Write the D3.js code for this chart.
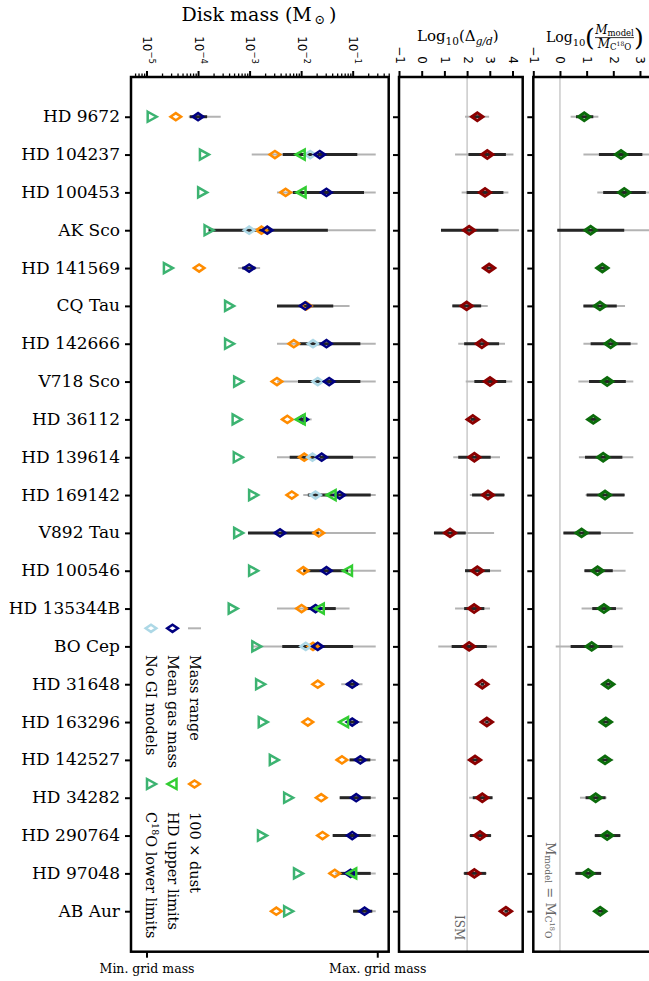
<!DOCTYPE html>
<html><head><meta charset="utf-8">
<script src="https://cdn.jsdelivr.net/npm/d3@7"></script>
<style>body{margin:0;background:#fff} svg{display:block}</style>
</head><body>
<svg id="chart" width="649" height="981"></svg>
<script>
// Disks, top to bottom
const stars = ["HD 9672","HD 104237","HD 100453","AK Sco","HD 141569","CQ Tau","HD 142666",
  "V718 Sco","HD 36112","HD 139614","HD 169142","V892 Tau","HD 100546","HD 135344B","BO Cep",
  "HD 31648","HD 163296","HD 142527","HD 34282","HD 290764","HD 97048","AB Aur"];

// Disk masses (Msun)
const c18oLower = [1.26e-5,1.3e-4,1.2e-4,1.6e-4,2.6e-5,4.0e-4,4.0e-4,6.0e-4,5.6e-4,5.9e-4,1.17e-3,
  6.0e-4,1.17e-3,4.7e-4,1.35e-3,1.6e-3,1.8e-3,2.95e-3,5.6e-3,1.74e-3,8.7e-3,5.6e-3];
const hdUpper = [null,9.8e-3,1.02e-2,null,null,null,null,null,9.8e-3,null,3.9e-2,null,8.1e-2,
  2.3e-2,null,null,6.8e-2,null,null,null,9.8e-2,null];
const dust100 = [3.7e-5,3.1e-3,5.0e-3,1.7e-3,1.05e-4,1.26e-2,7.2e-3,3.4e-3,5.4e-3,1.15e-2,6.6e-3,
  2.2e-2,1.1e-2,1.02e-2,1.7e-2,2.1e-2,1.35e-2,6.2e-2,2.45e-2,2.6e-2,4.5e-2,3.3e-3];
const gasMean = [1.0e-4,2.3e-2,3.1e-2,2.2e-3,9.8e-4,1.2e-2,3.1e-2,3.5e-2,1.07e-2,2.5e-2,5.6e-2,
  3.9e-3,3.1e-2,1.9e-2,2.1e-2,9.8e-2,9.8e-2,0.141,0.117,9.8e-2,9.1e-2,0.17];
const noGI = [null,1.5e-2,null,9.8e-4,null,null,1.7e-2,2.1e-2,null,1.66e-2,1.9e-2,null,null,null,
  1.23e-2,null,null,null,null,null,null,null];
const massMin = [6.6e-5,1.1e-3,3.4e-3,1.6e-4,6.0e-4,3.4e-3,3.4e-3,3.4e-3,8.1e-3,3.4e-3,1.1e-2,
  9.3e-4,1.1e-2,3.4e-3,1.1e-3,6.0e-2,7.0e-2,8.7e-2,5.6e-2,4.1e-2,4.5e-2,0.102];
const massMax = [2.75e-4,0.28,0.28,0.28,1.6e-3,8.7e-2,0.28,0.28,1.6e-2,0.28,0.28,0.28,0.28,8.7e-2,
  0.28,0.155,0.155,0.28,0.28,0.28,0.28,0.28];
const massLo = [6.9e-5,4.4e-3,6.9e-3,1.6e-4,7.2e-4,3.4e-3,9.3e-3,8.7e-3,8.9e-3,6.0e-3,1.35e-2,
  9.3e-4,1.1e-2,1.26e-2,4.3e-3,7.6e-2,7.9e-2,8.7e-2,5.6e-2,4.1e-2,5.6e-2,0.102];
const massHi = [1.5e-4,0.123,0.166,3.3e-2,1.3e-3,4.2e-2,0.141,0.141,1.26e-2,0.102,0.224,2.2e-2,
  8.1e-2,4.7e-2,0.102,0.126,0.126,0.22,0.224,0.224,0.224,0.24];
const massTicks = [1e-5,1e-4,1e-3,1e-2,1e-1];
const gridTicks = [1e-5,0.3];
const gridLabels = ["Min. grid mass","Max. grid mass"];

// log10 gas-to-dust ratio
const gdMean = [2.45,2.89,2.79,2.09,2.97,1.98,2.65,3.01,2.25,2.32,2.92,1.25,2.45,2.31,2.09,2.67,2.87,2.35,2.67,2.57,2.32,3.71];
const gdMin  = [1.91,1.47,1.76,0.85,2.75,1.35,1.61,1.94,2.0,1.39,2.12,0.54,1.91,1.47,0.73,2.55,2.75,2.05,2.09,2.09,1.83,3.6];
const gdMax  = [2.97,4.04,3.82,4.29,3.2,2.91,3.67,3.99,2.5,3.45,3.67,3.19,3.50,3.01,3.31,2.8,3.0,2.65,3.12,3.07,2.87,3.85];
const gdLo   = [2.2,2.06,1.98,0.85,2.85,1.35,1.87,2.32,2.15,1.61,2.22,0.54,1.91,1.87,1.32,2.6,2.8,2.15,2.25,2.13,1.87,3.65];
const gdHi   = [2.7,3.71,3.60,3.38,3.1,2.62,3.41,3.72,2.4,3.04,3.64,1.94,3.01,2.76,2.87,2.75,2.95,2.5,3.12,3.05,2.83,3.8];
const gdTicks = [-1,0,1,2,3,4];
const ismValue = 2;

// log10 (M_model / M_C18O)
const rMean = [0.91,2.29,2.41,1.15,1.59,1.50,1.90,1.77,1.25,1.62,1.69,0.81,1.41,1.65,1.19,1.81,1.72,1.69,1.34,1.77,1.06,1.51];
const rMin  = [0.40,0.88,1.40,-0.10,1.4,0.88,0.88,0.69,1.05,0.71,0.96,0.13,0.90,0.81,-0.16,1.65,1.55,1.45,0.75,1.29,0.56,1.35];
const rMax  = [1.44,3.4,3.45,3.45,1.8,2.44,2.91,2.75,1.45,2.75,2.44,2.75,2.46,2.35,2.37,1.95,1.9,2.0,1.75,2.28,1.56,1.7];
const rLo   = [0.6,1.46,1.62,-0.10,1.45,0.88,1.15,1.09,1.1,0.94,1.0,0.13,0.92,1.21,0.40,1.7,1.6,1.5,0.96,1.31,0.58,1.4];
const rHi   = [1.25,3.09,3.22,2.41,1.75,2.13,2.65,2.47,1.4,2.34,2.42,1.53,1.98,2.10,1.96,1.9,1.85,1.85,1.71,2.26,1.54,1.65];
const rTicks = [-1,0,1,2,3];

const serif = "'DejaVu Serif', serif";
const sans = "'DejaVu Sans', sans-serif";
const col = {c18o:"#3cb371", hd:"#32cd32", dust:"#ff8c00", gas:"#000080", nogi:"#add8e6",
  gd:"#8b0000", ratio:"#0b6b0b", rangeFull:"#b3b3b3", rangeCore:"#262626", ref:"#bdbdbd"};

const svg = d3.select("#chart");
const yTop = 77, yBottom = 951.7;
const y = d3.scaleLinear().domain([-1.05, 22.07]).range([yTop, yBottom]);
const xMass = d3.scaleLog().domain([5e-6, 0.5]).range([131, 388.7]);
const xGD = d3.scaleLinear().domain([-1, 4.45]).range([399, 522.7]);
const xR = d3.scaleLinear().domain([-1, 3.5]).range([533.3, 653.3]);

const diamond = (w, h) => `M${-w},0L0,${-h}L${w},0L0,${h}Z`;
const triRight = "M-4,-5L5,0L-4,5Z";
const triLeft = "M4,-5L-5,0L4,5Z";

function marker(g, path, x, yy, color, sw) {
  g.append("path").attr("d", path).attr("transform", `translate(${x},${yy})`)
    .attr("fill", "none").attr("stroke", color).attr("stroke-width", sw)
    .attr("stroke-linejoin", "miter");
}

// ---- frames and reference lines ----
const frames = [[xMass, 131, 388.7], [xGD, 399, 522.7], [xR, 533.3, 653.3]];
svg.append("line").attr("x1", xGD(ismValue)).attr("x2", xGD(ismValue)).attr("y1", yTop).attr("y2", yBottom)
  .attr("stroke", col.ref).attr("stroke-width", 1.2);
svg.append("line").attr("x1", xR(0)).attr("x2", xR(0)).attr("y1", yTop).attr("y2", yBottom)
  .attr("stroke", col.ref).attr("stroke-width", 1.2);

// ---- y axes (ticks on every panel, labels on the first) ----
frames.forEach(([, x0], k) => {
  const ax = d3.axisLeft(y).tickValues(d3.range(stars.length)).tickSize(6).tickPadding(5)
    .tickFormat(k === 0 ? (i => stars[i]) : () => "");
  const g = svg.append("g").attr("transform", `translate(${x0},0)`).call(ax);
  g.select(".domain").remove();
  g.selectAll(".tick line").attr("stroke", "#000").attr("stroke-width", 2);
  g.selectAll(".tick text").attr("font-family", serif).attr("font-size", 17)
    .attr("fill", "#000").attr("dy", "0.3em");
});

// ---- top axes ----
function styleTop(g, fmt) {
  g.select(".domain").remove();
  g.selectAll(".tick line").attr("stroke", "#000").attr("stroke-width", 2);
  g.selectAll(".tick text").each(function(d) {
    const t = d3.select(this);
    t.attr("x", 0).attr("y", 0).attr("dy", null)
      .attr("transform", "translate(0,-13) rotate(90)")
      .attr("text-anchor", "end").attr("dominant-baseline", "central")
      .attr("font-family", sans).attr("font-size", 12).attr("fill", "#000");
    fmt(t, d);
  });
}
// mass axis: major decades with minor ticks
const minor = [];
for (let e = -6; e <= 0; e++) for (let m = 2; m <= 9; m++) {
  const v = m * Math.pow(10, e);
  if (v >= 5e-6 && v <= 0.5) minor.push(v);
}
const gMinor = svg.append("g").attr("transform", `translate(0,${yTop})`)
  .call(d3.axisTop(xMass).tickValues(minor).tickSize(3.5).tickFormat(""));
gMinor.select(".domain").remove();
gMinor.selectAll(".tick line").attr("stroke", "#000").attr("stroke-width", 1.3);
const gMass = svg.append("g").attr("transform", `translate(0,${yTop})`)
  .call(d3.axisTop(xMass).tickValues(massTicks).tickSize(6));
styleTop(gMass, (t, d) => {
  const e = Math.round(Math.log10(d));
  t.text("10");
  t.append("tspan").attr("font-size", 8.5).attr("dy", -5).text("\u2212" + Math.abs(e));
});
const gGD = svg.append("g").attr("transform", `translate(0,${yTop})`)
  .call(d3.axisTop(xGD).tickValues(gdTicks).tickSize(6));
styleTop(gGD, (t, d) => t.text(d < 0 ? "\u2212" + Math.abs(d) : d));
const gR = svg.append("g").attr("transform", `translate(0,${yTop})`)
  .call(d3.axisTop(xR).tickValues(rTicks).tickSize(6));
styleTop(gR, (t, d) => t.text(d < 0 ? "\u2212" + Math.abs(d) : d));

// bottom axis of the mass panel: grid limits
const gBot = svg.append("g").attr("transform", `translate(0,${yBottom})`)
  .call(d3.axisBottom(xMass).tickValues(gridTicks).tickSize(6).tickPadding(6)
    .tickFormat((d, i) => gridLabels[i]));
gBot.select(".domain").remove();
gBot.selectAll(".tick line").attr("stroke", "#000").attr("stroke-width", 2);
gBot.selectAll(".tick text").attr("font-family", serif).attr("font-size", 12.5).attr("fill", "#000");

// ---- mass panel marks ----
const gM = svg.append("g");
stars.forEach((s, i) => {
  const yy = y(i);
  gM.append("line").attr("x1", xMass(massMin[i])).attr("x2", xMass(massMax[i]))
    .attr("y1", yy).attr("y2", yy).attr("stroke", col.rangeFull).attr("stroke-width", 2);
  gM.append("line").attr("x1", xMass(massLo[i])).attr("x2", xMass(massHi[i]))
    .attr("y1", yy).attr("y2", yy).attr("stroke", col.rangeCore).attr("stroke-width", 3);
  marker(gM, diamond(5.3, 3.6), xMass(dust100[i]), yy, col.dust, 2.5);
  if (noGI[i] != null) marker(gM, diamond(5.3, 3.6), xMass(noGI[i]), yy, col.nogi, 2.5);
  marker(gM, diamond(5.3, 3.6), xMass(gasMean[i]), yy, col.gas, 2.5);
  if (hdUpper[i] != null) marker(gM, triLeft, xMass(hdUpper[i]), yy, col.hd, 2.5);
  marker(gM, triRight, xMass(c18oLower[i]), yy, col.c18o, 2.5);
});

// ---- ratio panels ----
function ratioPanel(x, mean, mn, mx, lo, hi, color) {
  const g = svg.append("g");
  stars.forEach((s, i) => {
    const yy = y(i);
    g.append("line").attr("x1", x(mn[i])).attr("x2", x(mx[i])).attr("y1", yy).attr("y2", yy)
      .attr("stroke", col.rangeFull).attr("stroke-width", 2);
    g.append("line").attr("x1", x(lo[i])).attr("x2", x(hi[i])).attr("y1", yy).attr("y2", yy)
      .attr("stroke", col.rangeCore).attr("stroke-width", 3);
    marker(g, diamond(5.6, 3.9), x(mean[i]), yy, color, 3);
  });
}
ratioPanel(xGD, gdMean, gdMin, gdMax, gdLo, gdHi, col.gd);
ratioPanel(xR, rMean, rMin, rMax, rLo, rHi, col.ratio);

// frames on top
frames.forEach(([, x0, x1]) => {
  svg.append("rect").attr("x", x0).attr("y", yTop).attr("width", x1 - x0).attr("height", yBottom - yTop)
    .attr("fill", "none").attr("stroke", "#000").attr("stroke-width", 2.5);
});

// ---- reference line labels ----
svg.append("text").attr("transform", `translate(459,915) rotate(90)`)
  .attr("font-family", serif).attr("font-size", 12).attr("fill", "#666")
  .attr("dominant-baseline", "central").text("ISM");
const eq = svg.append("text").attr("transform", `translate(551,842) rotate(90)`)
  .attr("font-family", serif).attr("font-size", 13).attr("fill", "#666")
  .attr("dominant-baseline", "central");
eq.append("tspan").text("M");
eq.append("tspan").attr("font-size", 9).attr("dy", 3).text("model");
eq.append("tspan").attr("dy", -3).text(" = M");
eq.append("tspan").attr("font-size", 9).attr("dy", 3).text("C");
eq.append("tspan").attr("font-size", 6.5).attr("dy", -4).text("18");
eq.append("tspan").attr("font-size", 9).attr("dy", 4).text("O");

// ---- legend ----
const gL = svg.append("g");
const legTop = [
  {path: diamond(5.3, 3.6), color: col.nogi, label: "No GI models"},
  {path: diamond(5.3, 3.6), color: col.gas, label: "Mean gas mass"},
  {line: true, color: col.rangeFull, label: "Mass range"}
];
const legBot = [
  {path: triRight, color: col.c18o, label: ["C", "18", "O lower limits"]},
  {path: triLeft, color: col.hd, label: "HD upper limits"},
  {path: diamond(5.3, 3.6), color: col.dust, label: "100 \u00d7 dust"}
];
const legX = [151, 172.5, 194.5];
function legendBlock(items, my, ty) {
  items.forEach((d, k) => {
    const lx = legX[k];
    if (d.line) {
      gL.append("line").attr("x1", lx - 6.5).attr("x2", lx + 6.5).attr("y1", my).attr("y2", my)
        .attr("stroke", d.color).attr("stroke-width", 2);
    } else marker(gL, d.path, lx, my, d.color, 2.5);
    const t = gL.append("text").attr("transform", `translate(${lx},${ty}) rotate(90)`)
      .attr("font-family", serif).attr("font-size", 14.5).attr("fill", "#000")
      .attr("dominant-baseline", "central");
    if (Array.isArray(d.label)) {
      t.append("tspan").text(d.label[0]);
      t.append("tspan").attr("font-size", 9.5).attr("dy", -5).text(d.label[1]);
      t.append("tspan").attr("dy", 5).text(d.label[2]);
    } else t.text(d.label);
  });
}
legendBlock(legTop, 628.3, 655);
legendBlock(legBot, 784, 812);

// ---- titles ----
const t1 = svg.append("text").attr("x", 259).attr("y", 21).attr("text-anchor", "middle")
  .attr("font-family", serif).attr("font-size", 19).attr("fill", "#000");
t1.append("tspan").text("Disk mass (M");
t1.append("tspan").attr("font-size", 13).attr("dy", 3).text("\u2009\u2299");
t1.append("tspan").attr("dy", -3).text("\u2009)");

const t2 = svg.append("text").attr("x", 417).attr("y", 41)
  .attr("font-family", serif).attr("font-size", 15).attr("fill", "#000");
t2.append("tspan").text("Log");
t2.append("tspan").attr("font-size", 10.5).attr("dy", 3.5).text("10");
t2.append("tspan").attr("dy", -3.5).text("(\u0394");
t2.append("tspan").attr("font-size", 10.5).attr("dy", 3.5).attr("font-style", "italic").text("g/d");
t2.append("tspan").attr("dy", -3.5).text(")");

const t3 = svg.append("text").attr("x", 546).attr("y", 42)
  .attr("font-family", serif).attr("font-size", 14).attr("fill", "#000");
t3.append("tspan").text("Log");
t3.append("tspan").attr("font-size", 10).attr("dy", 3.5).text("10");
svg.append("text").attr("x", 585).attr("y", 46).attr("font-family", serif).attr("font-size", 25)
  .attr("fill", "#000").attr("font-weight", 200).text("(");
svg.append("text").attr("x", 634).attr("y", 46).attr("font-family", serif).attr("font-size", 25)
  .attr("fill", "#000").attr("font-weight", 200).text(")");
const num = svg.append("text").attr("x", 614.5).attr("y", 34).attr("text-anchor", "middle")
  .attr("font-family", serif).attr("font-size", 12).attr("fill", "#000");
num.append("tspan").attr("font-style", "italic").text("M");
num.append("tspan").attr("font-size", 8.5).attr("dy", 2).text("model");
svg.append("line").attr("x1", 595).attr("x2", 634).attr("y1", 37.6).attr("y2", 37.6)
  .attr("stroke", "#000").attr("stroke-width", 0.8);
const den = svg.append("text").attr("x", 614.5).attr("y", 47.5).attr("text-anchor", "middle")
  .attr("font-family", serif).attr("font-size", 12).attr("fill", "#000");
den.append("tspan").attr("font-style", "italic").text("M");
den.append("tspan").attr("font-size", 8.5).attr("dy", 2).text("C");
den.append("tspan").attr("font-size", 6).attr("dy", -3.5).text("18");
den.append("tspan").attr("font-size", 8.5).attr("dy", 3.5).text("O");
</script>
</body></html>
